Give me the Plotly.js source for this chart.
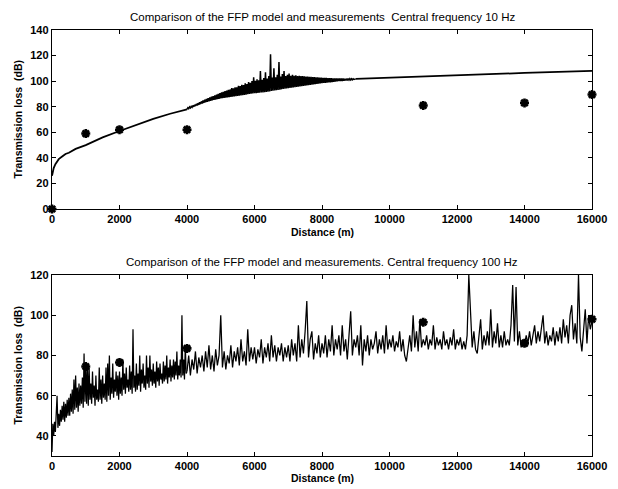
<!DOCTYPE html>
<html>
<head>
<meta charset="utf-8">
<script src="https://cdn.plot.ly/plotly-3.0.1.min.js"></script>
<style>html,body{margin:0;padding:0;background:#fff;}#plot{width:618px;height:489px;}</style>
</head>
<body>
<div id="plot"></div>
<script>
// ---------- Top panel (10 Hz) ----------
// FFP model, smooth part 0-4000 m
const model10_nearX = [0, 25, 50, 100, 150, 200, 300, 400, 500, 700, 1000, 1500, 2000, 2500, 3000, 3500, 4000];
const model10_nearY = [26, 30, 32, 35, 37, 39, 41, 43, 44, 47, 50, 56, 61, 66, 70.5, 74.5, 78];
// FFP model, oscillating part 4000-9000 m, one value every 25 m
const model10_bandStart = 4000;
const model10_bandStep = 25;
const model10_bandY = [
 78,79.2, 78.5,79.8, 79,80.3, 79.5,81, 80,81.5, 80.5,82.2, 81,82.8, 81.5,83.5, 82,84.2, 82.5,84.8,
 83,85.5, 83.4,86, 83.8,86.7, 84.2,87.2, 84.6,87.8, 85,88.3, 85.3,88.9, 85.6,89.5, 85.9,90, 86.2,90.6,
 86.5,91.2, 86.7,91.6, 86.9,92.2, 87.1,92.6, 87.3,93.2, 87.5,93.5, 87.7,94.5, 87.9,94.3, 88.1,95.2, 88.3,95.2,
 88.5,96.4, 88.7,96.2, 88.9,97.2, 89.1,97, 89.3,98.4, 89.5,97.8, 89.7,99.2, 89.9,98.6, 90.1,100, 90.3,103,
 90.5,100.2, 90.6,101.5, 90.8,100.6, 90.9,108, 91.1,101, 91.2,102.5, 91.4,107, 91.6,102, 91.8,104, 92,121,
 92.3,102.8, 92.5,110, 92.7,103, 92.9,105, 93.1,115, 93.3,103.5, 93.6,105.5, 93.9,108, 94.1,104, 94.3,105,
 94.5,106, 94.7,104.2, 94.9,105, 95.1,104.1, 95.3,104.5, 95.5,104, 95.7,104.2, 95.9,103.9, 96.1,104, 96.3,103.7,
 96.5,103.6, 96.7,103.5, 96.9,103.4, 97.1,103.3, 97.3,103.2, 97.5,103.1, 97.7,103, 97.9,102.9, 98.1,102.8, 98.3,102.7,
 98.5,102.6, 98.6,102.5, 98.7,102.5, 98.9,102.4, 99,102.3, 99.1,102.3, 99.3,102.2, 99.5,102.2, 99.7,102.1, 99.8,102.1,
 100,102, 100.1,102, 100.2,102, 100.4,101.9, 100.5,101.9, 100.6,101.9, 100.8,101.9, 101,101.9, 101.1,101.8, 101.3,101.8,
 101.8
];
// FFP model, smooth part 9000-16000 m
const model10_farX = [9000, 10000, 11000, 12000, 13000, 14000, 15000, 16000];
const model10_farY = [101.8, 102.8, 103.8, 104.8, 105.6, 106.4, 107.2, 108];
// Measurements
const meas10X = [0, 1000, 2000, 4000, 11000, 14000, 16000];
const meas10Y = [0, 59, 62, 62, 81, 83, 89.5];

// ---------- Bottom panel (100 Hz) ----------
// FFP model 0-4000 m, one value every 25 m
const model100_nearStart = 0;
const model100_nearStep = 25;
const model100_nearY = [
 32,46,40,47,42,50,60,44,51,45,53,47,55,48,57,47,56,49,58,50,
 59,50,61,52,63,51,68,53,70,54,64,52,66,55,65,56,69,54,81,57,
 75,56,75,55,74,58,66,56,72,59,65,55,70,58,63,57,74,58,68,56,
 70,59,66,58,74,57,76,60,80,58,69,61,76,59,68,62,72,60,70,58,
 72,61,69,60,78,63,71,61,74,64,68,62,75,63,72,61,93,64,70,62,
 76,63,71,65,80,62,73,66,76,64,70,63,80,66,74,64,80,67,73,65,
 76,66,72,64,77,67,74,65,76,68,71,66,77,67,75,68,80,66,74,69,
 78,67,75,69,78,68,77,70,82,68,75,70,78,69,100,70,78,68,85,71,
 72
];
// FFP model 4000-16000 m, one value every 50 m
const model100_farStart = 4000;
const model100_farStep = 50;
const model100_farY = [
 // 4000-4950
 72,80,70,78,73,82,71,79,74,80,72,82,74,85,73,80,72,83,75,80,
 // 5000-5950
 100,74,82,73,80,76,85,74,82,77,84,75,88,77,82,75,93,77,84,78,
 // 6000-6950
 84,76,83,79,88,76,84,79,86,77,90,79,85,77,84,80,86,77,84,79,
 // 7000-7950
 85,77,88,80,86,77,95,79,88,81,92,107,79,88,92,78,86,81,90,79,
 // 8000-8950
 86,81,90,79,88,82,95,80,88,83,90,80,95,82,88,78,90,102,80,88,
 // 9000-9950
 84,90,80,95,75,88,82,90,80,88,83,86,92,81,88,83,90,81,95,83,
 // 10000-10950
 88,84,90,82,87,84,92,82,88,80,77,85,90,82,100,84,92,82,98,84,
 // 11000-11950
 88,85,90,83,88,85,95,83,89,85,88,83,92,85,88,83,89,85,93,83,
 // 12000-12950
 88,85,89,83,87,83,90,120,100,84,92,83,81,88,98,83,90,85,92,85,
 // 13000-13950
 103,84,92,86,96,84,90,84,92,85,88,85,95,115,87,114,85,92,84,88,
 // 14000-14950
 85,90,86,92,85,90,95,86,92,87,94,100,86,92,85,90,87,94,85,92,
 // 15000-15950
 87,94,86,98,89,95,86,100,105,88,96,86,120,89,82,92,103,86,100,93,
 // 16000
 97
];
const meas100X = [1000, 2000, 4000, 11000, 14000, 16000];
const meas100Y = [74.5, 76.5, 83.5, 96.5, 86, 98];

// ---------- Tick labels ----------
const xTicks = [0, 2000, 4000, 6000, 8000, 10000, 12000, 14000, 16000];
const yTicksTop = [0, 20, 40, 60, 80, 100, 120, 140];
const yTicksBottom = [40, 60, 80, 100, 120];

const FONT = 'Liberation Sans, Arial, Helvetica, sans-serif';
const lineTop = {color: '#000', width: 1.8};
const lineBottom = {color: '#000', width: 1.25};
const markerStyle = {symbol: 'asterisk-open', size: 7.5, color: '#000', line: {color: '#000', width: 2.6}};

const traces = [
  {x: model10_nearX, y: model10_nearY, mode: 'lines', line: lineTop, xaxis: 'x', yaxis: 'y', hoverinfo: 'skip'},
  {y: model10_bandY, x0: model10_bandStart, dx: model10_bandStep, mode: 'lines', line: {color: '#000', width: 1.5}, xaxis: 'x', yaxis: 'y', hoverinfo: 'skip'},
  {x: model10_farX, y: model10_farY, mode: 'lines', line: lineTop, xaxis: 'x', yaxis: 'y', hoverinfo: 'skip'},
  {x: meas10X, y: meas10Y, mode: 'markers', marker: markerStyle, cliponaxis: false, xaxis: 'x', yaxis: 'y'},
  {y: model100_nearY, x0: model100_nearStart, dx: model100_nearStep, mode: 'lines', line: lineBottom, xaxis: 'x2', yaxis: 'y2', hoverinfo: 'skip'},
  {y: model100_farY, x0: model100_farStart, dx: model100_farStep, mode: 'lines', line: lineBottom, xaxis: 'x2', yaxis: 'y2', hoverinfo: 'skip'},
  {x: meas100X, y: meas100Y, mode: 'markers', marker: markerStyle, cliponaxis: false, xaxis: 'x2', yaxis: 'y2'}
];

const axisCommon = {
  showline: true, linecolor: '#000', linewidth: 1.2, mirror: 'ticks',
  ticks: 'inside', ticklen: 4, tickcolor: '#000', tickwidth: 1,
  showgrid: false, zeroline: false,
  tickfont: {family: FONT, size: 11, color: '#000', weight: 'bold'}
};

const layout = {
  width: 618, height: 489,
  margin: {l: 52, r: 26, t: 30, b: 33},
  paper_bgcolor: '#fff', plot_bgcolor: '#fff',
  showlegend: false,
  xaxis: Object.assign({}, axisCommon, {range: [0, 16000], tickvals: xTicks, ticktext: xTicks.map(String), anchor: 'y'}),
  yaxis: Object.assign({}, axisCommon, {range: [0, 140], tickvals: yTicksTop, ticktext: yTicksTop.map(String), domain: [0.5798, 1], anchor: 'x'}),
  xaxis2: Object.assign({}, axisCommon, {range: [0, 16000], tickvals: xTicks, ticktext: xTicks.map(String), anchor: 'y2'}),
  yaxis2: Object.assign({}, axisCommon, {range: [30, 120], tickvals: yTicksBottom, ticktext: yTicksBottom.map(String), domain: [0, 0.4249], anchor: 'x2'}),
  annotations: [
    {text: 'Comparison of the FFP model and measurements  Central frequency 10 Hz', xref: 'paper', yref: 'paper', x: 0.5, y: 1.0305, xanchor: 'center', yanchor: 'middle', showarrow: false, font: {family: FONT, size: 11.5, color: '#000'}},
    {text: 'Distance (m)', xref: 'paper', yref: 'paper', x: 0.5, y: 0.5258, xanchor: 'center', yanchor: 'middle', showarrow: false, font: {family: FONT, size: 10.5, color: '#000', weight: 'bold'}},
    {text: 'Transmission loss  (dB)', xref: 'paper', yref: 'paper', x: -0.063, y: 0.79, xanchor: 'center', yanchor: 'middle', textangle: -90, showarrow: false, font: {family: FONT, size: 10.5, color: '#000', weight: 'bold'}},
    {text: 'Comparison of the FFP model and measurements. Central frequency 100 Hz', xref: 'paper', yref: 'paper', x: 0.5, y: 0.4554, xanchor: 'center', yanchor: 'middle', showarrow: false, font: {family: FONT, size: 11.5, color: '#000'}},
    {text: 'Distance (m)', xref: 'paper', yref: 'paper', x: 0.5, y: -0.0516, xanchor: 'center', yanchor: 'middle', showarrow: false, font: {family: FONT, size: 10.5, color: '#000', weight: 'bold'}},
    {text: 'Transmission loss  (dB)', xref: 'paper', yref: 'paper', x: -0.063, y: 0.2124, xanchor: 'center', yanchor: 'middle', textangle: -90, showarrow: false, font: {family: FONT, size: 10.5, color: '#000', weight: 'bold'}}
  ]
};

Plotly.newPlot('plot', traces, layout, {staticPlot: true, displayModeBar: false});
</script>
</body>
</html>
